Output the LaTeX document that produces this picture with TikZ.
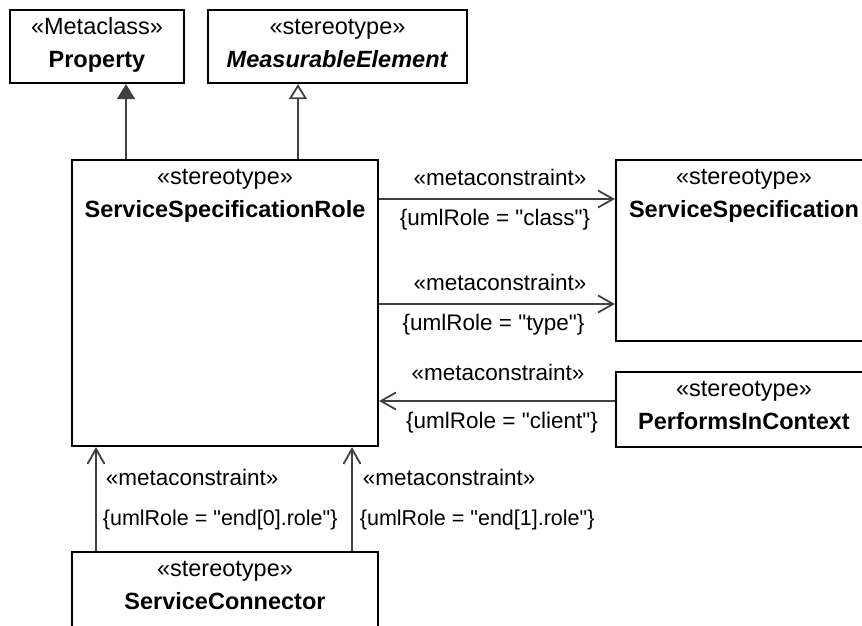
\documentclass[tikz,border=0pt]{standalone}
\usepackage{fontspec}
\setmainfont{Liberation Sans}
\usetikzlibrary{arrows.meta,positioning,calc}
\newcommand{\dq}{\XeTeXglyph\XeTeXcharglyph"22\relax}

\begin{document}
\begin{tikzpicture}[x=1pt,y=-1pt,
  umlbox/.style={draw,line width=2.2pt,inner sep=0pt},
  stereo/.style={font=\fontsize{23.5}{27}\selectfont,inner sep=0pt,anchor=base},
  cname/.style={font=\fontsize{23.5}{27}\selectfont\bfseries,inner sep=0pt,anchor=base},
  lbl/.style={font=\fontsize{22.5}{26}\selectfont,inner sep=0pt,anchor=base},
  endlbl/.style={lbl,font=\fontsize{21.5}{26}\selectfont,anchor=base west},
  link/.style={line width=1.8pt,draw=black!75},
  assoc/.style={link,-{Straight Barb[length=15pt,width=17pt]}},
  gen/.style={link,-{Triangle[length=15pt,width=18pt]}},
  genopen/.style={link,-{Triangle[open,length=15pt,width=18pt,fill=white]}}]
  \useasboundingbox (0,0) rectangle (862,625);
  % boxes
  \node[umlbox,minimum width=174pt,minimum height=73pt] (prop) at (97,46.5) {};
  \node[umlbox,minimum width=259pt,minimum height=73pt] (meas) at (337.5,46.5) {};
  \node[umlbox,minimum width=306pt,minimum height=286pt] (ssr) at (225,303) {};
  \node[umlbox,minimum width=256pt,minimum height=181pt] (spec) at (744,250.5) {};
  \node[umlbox,minimum width=256pt,minimum height=75pt] (perf) at (744,409.5) {};
  \node[umlbox,minimum width=306pt,minimum height=108pt] (conn) at (225,606) {};
  \foreach \b/\st/\nm in {prop/«Metaclass»/Property,
      meas/«stereotype»/{\textit{MeasurableElement}},
      ssr/«stereotype»/ServiceSpecificationRole,
      spec/«stereotype»/ServiceSpecification,
      perf/«stereotype»/PerformsInContext,
      conn/«stereotype»/ServiceConnector}{
    \node[stereo] (\b-st) at ($(\b.north)+(0,26)$) {\st};
    \node[cname] (\b-nm) at ($(\b.north)+(0,59)$) {\nm};
  }
  % generalizations
  \coordinate (g1) at (126,0);
  \coordinate (g2) at (298,0);
  \draw[gen] (ssr.north -| g1) -- (prop.south -| g1);
  \draw[genopen] (ssr.north -| g2) -- (meas.south -| g2);
  % metaconstraints
  \coordinate (h1) at (0,199);
  \coordinate (h2) at (0,304);
  \coordinate (h3) at (0,401);
  \coordinate (v1) at (96,0);
  \coordinate (v2) at (352,0);
  \draw[assoc] (ssr.east |- h1) -- (spec.west |- h1)
    node[lbl,midway,xshift=3pt,yshift=14pt]{«metaconstraint»}
    node[lbl,midway,xshift=-2pt,yshift=-26pt]{\{umlRole = \dq class\dq\}};
  \draw[assoc] (ssr.east |- h2) -- (spec.west |- h2)
    node[lbl,midway,xshift=3pt,yshift=14pt]{«metaconstraint»}
    node[lbl,midway,xshift=-3.5pt,yshift=-26pt]{\{umlRole = \dq type\dq\}};
  \draw[assoc] (perf.west |- h3) -- (ssr.east |- h3)
    node[lbl,midway,xshift=1pt,yshift=21pt]{«metaconstraint»}
    node[lbl,midway,xshift=5pt,yshift=-27pt]{\{umlRole = \dq client\dq\}};
  \draw[assoc] (conn.north -| v1) -- (ssr.south -| v1)
    node[lbl,pos=0.632,anchor=base west,xshift=9pt]{«metaconstraint»}
    node[endlbl,pos=0.245,xshift=6pt]{\{umlRole = \dq end[0].role\dq\}};
  \draw[assoc] (conn.north -| v2) -- (ssr.south -| v2)
    node[lbl,pos=0.632,anchor=base west,xshift=10pt]{«metaconstraint»}
    node[endlbl,pos=0.245,xshift=7pt]{\{umlRole = \dq end[1].role\dq\}};
\end{tikzpicture}
\end{document}
